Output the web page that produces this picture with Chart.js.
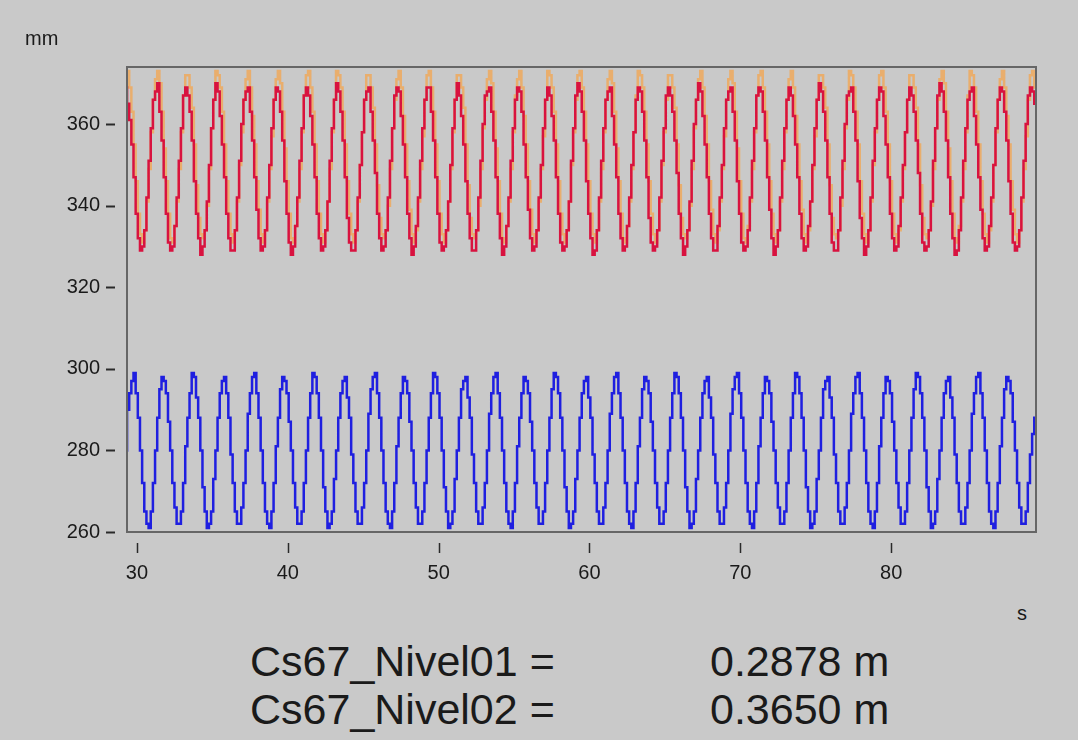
<!DOCTYPE html>
<html>
<head>
<meta charset="utf-8">
<title>Cs67 Nivel</title>
<script src="https://cdn.jsdelivr.net/npm/chart.js@4.4.1/dist/chart.umd.min.js"></script>
<style>
  body { margin: 0; background: #c9c9c9; width: 1078px; height: 740px; overflow: hidden; position: relative;
         font-family: "Liberation Sans", Arial, sans-serif; color: #1a1a1a; }
  #wrap { position: absolute; left: 0; top: 0; width: 1078px; height: 600px; }
  .lbl { position: absolute; white-space: nowrap; line-height: 1; }
</style>
</head>
<body>
<div id="wrap"><canvas id="levelChart" width="1078" height="600"></canvas></div>
<div class="lbl" style="left:25px; top:28px; font-size:20px;">mm</div>
<div class="lbl" style="left:1017px; top:603px; font-size:20px;">s</div>
<div class="lbl" style="left:250px; top:640px; font-size:43px;">Cs67_Nivel01 =</div>
<div class="lbl" style="left:710px; top:640px; font-size:43px;">0.2878 m</div>
<div class="lbl" style="left:250px; top:688px; font-size:43px;">Cs67_Nivel02 =</div>
<div class="lbl" style="left:710px; top:688px; font-size:43px;">0.3650 m</div>
<script>
// sampled at a fixed interval, 14 samples per ~2 s wave
const SAMPLE_START = 29.2;
const SAMPLE_STEP = 1 / 7;

const xTicks = [30, 40, 50, 60, 70, 80];
const yTicks = [260, 280, 300, 320, 340, 360];

// Cs67_Nivel02 (red), mm
const nivel02 = [
  369,365,361,355,347,338,332,329,330,334,342,351,359,366,
  368,370,363,356,347,338,331,329,330,335,342,351,359,367,
  369,367,363,356,346,338,332,328,330,334,341,350,359,366,
  370,368,362,355,347,338,332,329,329,334,342,351,360,366,
  368,369,363,356,347,339,332,329,330,334,342,350,359,366,
  369,368,363,356,346,338,331,328,330,335,342,351,359,367,
  369,367,362,355,347,338,332,329,330,334,341,351,359,366,
  370,368,363,356,347,337,331,329,329,334,342,350,358,366,
  368,369,363,356,348,338,332,329,330,334,342,351,359,367,
  369,368,362,355,347,338,332,328,330,335,342,351,359,366,
  369,369,363,356,347,338,331,329,330,334,341,350,359,366,
  370,367,362,355,346,338,332,329,329,334,342,351,360,367,
  368,369,363,356,347,338,332,328,330,335,342,351,359,366,
  369,368,363,355,347,339,332,329,330,334,342,350,359,366,
  369,367,362,356,347,338,331,329,330,334,341,351,359,367,
  370,368,363,356,346,338,332,328,329,334,342,351,359,366,
  368,369,362,355,347,338,332,329,330,335,342,350,358,366,
  369,368,363,356,347,337,331,329,330,334,342,351,359,367,
  369,367,363,356,348,338,332,328,330,334,341,351,360,366,
  370,368,362,355,347,338,332,329,329,335,342,350,359,366,
  368,369,363,356,346,338,331,329,330,334,342,351,359,367,
  369,368,363,356,347,339,332,328,330,334,342,351,359,366,
  369,367,362,355,347,338,332,329,330,335,341,350,359,366,
  370,368,363,356,347,338,331,329,329,334,342,351,360,367,
  368,369,363,356,346,337,332,328,330,334,342,351,359,366,
  369,368,362,355,347,338,332,329,330,335,342,350,358,366,
  369,367,363,356,348,338,331,329,330,334,341,351,359,367,
  370,368,363,356,347,338,332,328,329,334,342,351,359,366,
  368,369,362,355,347,339,332,329,330,335,342,350,359,366,
  369,368,363,356,346,338,331,329,330,334,342,351,360,367,
  369,368,365,363
];

// reference level (orange), mostly hidden behind the red trace
const nivel02Ref = [
  372,373,369,363,355,346,338,333,331,334,341,349,358,366,
  371,373,370,363,354,346,338,332,331,335,341,349,358,367,
  372,372,369,364,355,345,337,333,332,334,340,349,359,366,
  373,372,369,363,355,346,338,333,331,334,341,350,358,366,
  371,373,369,362,355,346,339,333,331,334,341,349,357,366,
  371,373,370,363,354,346,338,332,331,335,341,349,358,367,
  372,373,369,363,355,346,338,333,331,334,341,349,358,366,
  373,372,369,363,355,346,338,333,331,334,341,350,358,366,
  372,372,369,364,355,345,337,333,332,334,340,349,359,366,
  371,373,369,362,355,346,339,333,331,334,341,349,357,366,
  372,373,369,363,355,346,338,333,331,334,341,349,358,366,
  372,372,369,364,355,345,337,333,332,334,340,349,359,366,
  371,373,370,363,354,346,338,332,331,335,341,349,358,367,
  371,373,369,362,355,346,339,333,331,334,341,349,357,366,
  373,372,369,363,355,346,338,333,331,334,341,350,358,366,
  372,373,369,363,355,346,338,333,331,334,341,349,358,366,
  371,373,370,363,354,346,338,332,331,335,341,349,358,367,
  373,372,369,363,355,346,338,333,331,334,341,350,358,366,
  372,372,369,364,355,345,337,333,332,334,340,349,359,366,
  371,373,369,362,355,346,339,333,331,334,341,349,357,366,
  371,373,370,363,354,346,338,332,331,335,341,349,358,367,
  372,373,369,363,355,346,338,333,331,334,341,349,358,366,
  371,373,369,362,355,346,339,333,331,334,341,349,357,366,
  372,372,369,364,355,345,337,333,332,334,340,349,359,366,
  373,372,369,363,355,346,338,333,331,334,341,350,358,366,
  372,373,369,363,355,346,338,333,331,334,341,349,358,366,
  372,372,369,364,355,345,337,333,332,334,340,349,359,366,
  371,373,370,363,354,346,338,332,331,335,341,349,358,367,
  373,372,369,363,355,346,338,333,331,334,341,350,358,366,
  371,373,369,362,355,346,339,333,331,334,341,349,357,366,
  372,373,369,363
];

// Cs67_Nivel01 (blue), mm
const nivel01 = [
  280,290,294,297,299,294,288,280,272,265,262,261,265,272,
  280,288,295,298,297,294,287,280,272,266,262,262,265,272,
  281,288,294,299,298,293,288,280,271,265,261,262,265,273,
  280,288,294,297,298,294,288,279,272,265,262,262,266,272,
  280,289,294,298,299,294,288,280,272,265,262,261,265,272,
  281,288,295,298,297,294,287,280,272,266,262,262,265,272,
  280,288,294,299,298,294,288,280,271,265,261,262,265,273,
  280,288,294,297,298,293,288,279,272,265,262,262,266,272,
  280,289,295,298,299,294,288,280,272,265,262,261,265,272,
  281,288,294,298,297,294,287,280,272,266,262,262,265,272,
  280,288,294,299,298,294,288,280,271,265,261,262,265,273,
  280,288,295,297,298,293,288,279,272,265,262,262,266,272,
  280,289,294,298,299,294,288,280,272,265,262,261,265,272,
  281,288,294,298,297,294,287,280,272,266,262,262,265,272,
  280,288,295,299,298,294,288,280,271,265,261,262,265,273,
  280,288,294,297,298,293,288,279,272,265,262,262,266,272,
  280,289,294,298,299,294,288,280,272,265,262,261,265,272,
  281,288,295,298,297,294,287,280,272,266,262,262,265,272,
  280,288,294,299,298,294,288,280,271,265,261,262,265,273,
  280,288,294,297,298,293,288,279,272,265,262,262,266,272,
  280,289,295,298,299,294,288,280,272,265,262,261,265,272,
  281,288,294,298,297,294,287,280,272,266,262,262,265,272,
  280,288,294,299,298,294,288,280,271,265,261,262,265,273,
  280,288,295,297,298,293,288,279,272,265,262,262,266,272,
  280,289,294,298,299,294,288,280,272,265,262,261,265,272,
  281,288,294,298,297,294,287,280,272,266,262,262,265,272,
  280,288,295,299,298,294,288,280,271,265,261,262,265,273,
  280,288,294,297,298,293,288,279,272,265,262,262,266,272,
  280,289,294,298,299,294,288,280,272,265,262,261,265,272,
  281,288,295,298,297,294,287,280,272,266,262,262,265,272,
  279,284,288,292
];

const toPoints = vals => vals.map((v, i) => ({ x: SAMPLE_START + i * SAMPLE_STEP, y: v }));

const framePlugin = {
  id: 'frame',
  afterDatasetsDraw(chart) {
    const { ctx, chartArea: a, scales: { x, y } } = chart;
    ctx.save();
    ctx.strokeStyle = '#666666';
    ctx.lineWidth = 2;
    ctx.strokeRect(a.left, a.top, a.right - a.left, a.bottom - a.top);
    ctx.strokeStyle = '#2a2a2a';
    y.ticks.forEach(t => {
      const py = Math.round(y.getPixelForValue(t.value)) + 0.5;
      ctx.beginPath();
      ctx.moveTo(a.left - 21, py);
      ctx.lineTo(a.left - 12, py);
      ctx.stroke();
    });
    ctx.lineWidth = 1.5;
    x.ticks.forEach(t => {
      const px = Math.round(x.getPixelForValue(t.value)) + 0.5;
      ctx.beginPath();
      ctx.moveTo(px, a.bottom + 11);
      ctx.lineTo(px, a.bottom + 21);
      ctx.stroke();
    });
    ctx.restore();
  }
};

const tickFont = { family: '"Liberation Sans", Arial, sans-serif', size: 20 };

new Chart(document.getElementById('levelChart').getContext('2d'), {
  type: 'line',
  data: {
    datasets: [
      { label: 'Cs67_Nivel02', data: toPoints(nivel02), borderColor: '#d8123f', borderWidth: 2.5, stepped: true, order: 1 },
      { label: 'Cs67_Nivel01', data: toPoints(nivel01), borderColor: '#1f1fe0', borderWidth: 2.5, stepped: true, order: 2 },
      { label: 'Referencia', data: toPoints(nivel02Ref), borderColor: 'rgba(246,163,70,0.7)', borderWidth: 2.5, stepped: true, order: 3 }
    ]
  },
  options: {
    responsive: false,
    animation: false,
    devicePixelRatio: 1,
    layout: { padding: { left: 0, top: 67, right: 42, bottom: 0 } },
    elements: { point: { radius: 0 } },
    plugins: { legend: { display: false }, tooltip: { enabled: false } },
    scales: {
      x: {
        type: 'linear',
        min: 29.34,
        max: 89.6,
        grid: { display: false, drawTicks: false },
        border: { display: false },
        ticks: { font: tickFont, color: '#1a1a1a', padding: 29 },
        afterBuildTicks: s => { s.ticks = xTicks.map(v => ({ value: v })); },
        afterFit: s => { s.height = 68; }
      },
      y: {
        min: 260,
        max: 374,
        grid: { display: false, drawTicks: false },
        border: { display: false },
        ticks: { font: tickFont, color: '#1a1a1a', padding: 27 },
        afterBuildTicks: s => { s.ticks = yTicks.map(v => ({ value: v })); },
        afterFit: s => { s.width = 127; }
      }
    }
  },
  plugins: [framePlugin]
});
</script>
</body>
</html>
